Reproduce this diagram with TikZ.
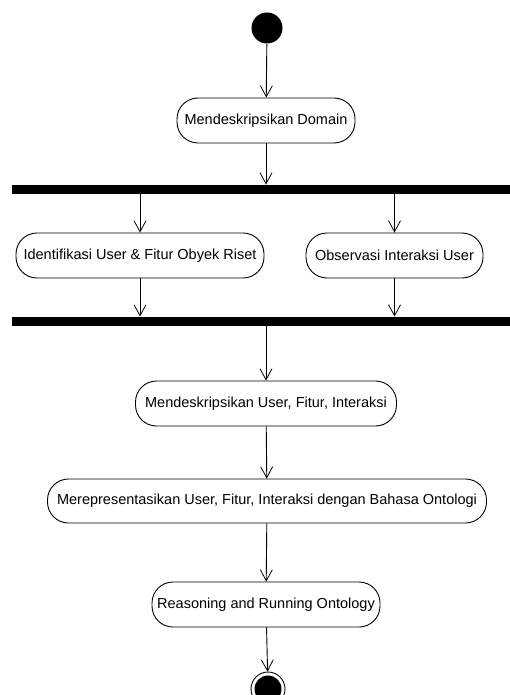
\documentclass[tikz,border=0pt]{standalone}
\usepackage{fontspec}
\setmainfont{Liberation Sans}
\usetikzlibrary{arrows.meta}
\definecolor{ink}{HTML}{000000}

\begin{document}
\begin{tikzpicture}[x=1pt,y=-1pt,line width=0.9pt,
    >={Straight Barb[length=11pt,width=12pt,line width=0.8pt]},font=\fontsize{14.5}{16}\selectfont,
    activity/.style={draw=ink,rounded corners=21pt,minimum height=45pt,inner sep=0pt},
    bar/.style={fill=ink,minimum width=498pt,minimum height=9pt,inner sep=0pt},
    flow/.style={->,ink}]
  \useasboundingbox (0,0) rectangle (510,695);
  % start and end
  \node[circle,fill=ink,minimum size=31pt,inner sep=0pt] (start) at (267,28) {};
  \node[circle,draw=ink,minimum size=34pt,inner sep=0pt] (stop) at (268,689) {};
  \fill[ink] (stop) circle (13.5pt);
  % activities
  \node[activity,minimum width=178pt] (domain) at (266,120.5) {Mendeskripsikan Domain};
  \node[bar] (fork) at (261,189.5) {};
  \node[activity,minimum width=248pt] (ident) at (140,255.5) {Identifikasi User \& Fitur Obyek Riset};
  \node[activity,minimum width=177pt] (observ) at (394.5,255.5) {Observasi Interaksi User};
  \node[bar] (join) at (261,321.5) {};
  \node[activity,minimum width=261pt] (describe) at (266,403.5) {Mendeskripsikan User, Fitur, Interaksi};
  \node[activity,minimum width=439pt,minimum height=44pt] (represent) at (267,501) {Merepresentasikan User, Fitur, Interaksi dengan Bahasa Ontologi};
  \node[activity,minimum width=228pt] (reason) at (266,604.5) {Reasoning and Running Ontology};
  % transitions
  \draw[flow] (start) -- (domain);
  \draw[flow] (domain) -- (domain |- fork.north);
  \draw[flow] (fork.south -| ident) -- (ident);
  \draw[flow] (fork.south -| observ) -- (observ);
  \draw[flow] (ident) -- (ident |- join.north);
  \draw[flow] (observ) -- (observ |- join.north);
  \draw[flow] (join.south -| describe) -- (describe);
  \draw[flow] (describe) -- (represent);
  \draw[flow] (represent) -- (reason);
  \draw[flow] (reason) -- (stop);
\end{tikzpicture}
\end{document}
